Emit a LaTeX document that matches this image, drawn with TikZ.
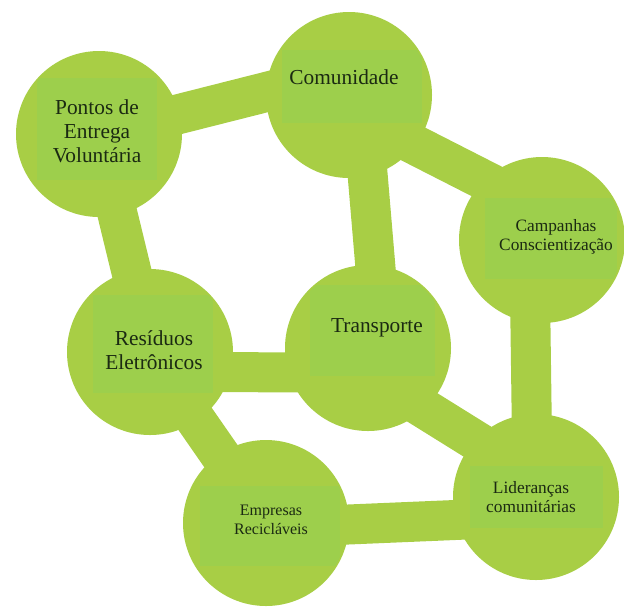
\documentclass[tikz,border=0pt]{standalone}
\usepackage{fontspec}
\setmainfont{Liberation Serif}
\usepackage{tikz}
\usepackage{xcolor}
\usetikzlibrary{backgrounds}
\definecolor{discgreen}{HTML}{A8CE45}
\definecolor{panelgreen}{HTML}{9DCF4C}
\definecolor{ink}{HTML}{1B2A12}
\tikzset{
  disc/.style={circle,fill=discgreen,minimum size=124.5pt,inner sep=0pt},
  panel/.style={rectangle,fill=panelgreen,inner sep=0pt},
  biglabel/.style={text=ink,align=center,inner sep=0pt,
                   font=\fontsize{16}{18}\selectfont},
  smalllabel/.style={text=ink,align=center,inner sep=0pt,
                     font=\fontsize{13}{14}\selectfont},
  link/.style={draw=discgreen,line width=30pt,
               shorten <=-20pt,shorten >=-20pt}
}

\begin{document}
\begin{tikzpicture}[x=0.75pt,y=-0.75pt]
  \useasboundingbox (0,0) rectangle (624,612);
  % ---- discs ----
  \node[disc] (pev) at (99,134) {};
  \node[disc] (com) at (349,95) {};
  \node[disc] (cam) at (542,240) {};
  \node[disc] (res) at (150,352) {};
  \node[disc] (tra) at (368,348) {};
  \node[disc] (emp) at (266,523) {};
  \node[disc] (lid) at (536,497) {};
  % ---- inner panels, kept inside their discs ----
  \begin{scope}
    \clip (pev) circle[radius=61pt];
    \node[panel,minimum width=90pt,minimum height=76.5pt] (pevp) at (97,129) {};
  \end{scope}
  \begin{scope}
    \clip (com) circle[radius=61pt];
    \node[panel,minimum width=105pt,minimum height=54.75pt] (comp) at (352,86) {};
  \end{scope}
  \begin{scope}
    \clip (cam) circle[radius=61pt];
    \node[panel,minimum width=99pt,minimum height=60.75pt] (camp) at (551,238) {};
  \end{scope}
  \begin{scope}
    \clip (res) circle[radius=61pt];
    \node[panel,minimum width=90pt,minimum height=73.5pt] (resp) at (153,344) {};
  \end{scope}
  \begin{scope}
    \clip (tra) circle[radius=61pt];
    \node[panel,minimum width=93.75pt,minimum height=68.25pt] (trap) at (372,330) {};
  \end{scope}
  \begin{scope}
    \clip (emp) circle[radius=61pt];
    \node[panel,minimum width=105pt,minimum height=60pt] (empp) at (270,526) {};
  \end{scope}
  \begin{scope}
    \clip (lid) circle[radius=61pt];
    \node[panel,minimum width=99.75pt,minimum height=46.5pt] (lidp) at (536,497) {};
  \end{scope}
  % ---- labels ----
  \node[biglabel] (pevl) at (97,131) {Pontos de\\Entrega\\Voluntária};
  \node[biglabel] (coml) at (344,77) {Comunidade};
  \node[smalllabel] (caml) at (556,237) {Campanhas\\Conscientização};
  \node[biglabel] (resl) at (154,350) {Resíduos\\Eletrônicos};
  \node[biglabel] (tral) at (377,328) {Transporte};
  \node[smalllabel,font=\fontsize{12}{14}\selectfont] (empl) at (271,520) {Empresas\\Recicláveis};
  \node[smalllabel] (lidl) at (531,497) {Lideranças\\comunitárias};
  % ---- links ----
  \begin{scope}[on background layer]
    \draw[link] (pev.14) -- (com.178);
    \draw[link] (pev.-77) -- (res.103);
    \draw[link] (com.-37) -- (cam.134);
    \draw[link] (com.-77) -- (tra.85);
    \draw[link] (cam.-98) -- (lid.93);
    \draw[link] (res.-14) -- (tra.197);
    \draw[link] (res.-56) -- (emp.124);
    \draw[link] (tra.-47) -- (lid.137);
    \draw[link] (emp.-1) -- (lid.196);
  \end{scope}
\end{tikzpicture}
\end{document}
